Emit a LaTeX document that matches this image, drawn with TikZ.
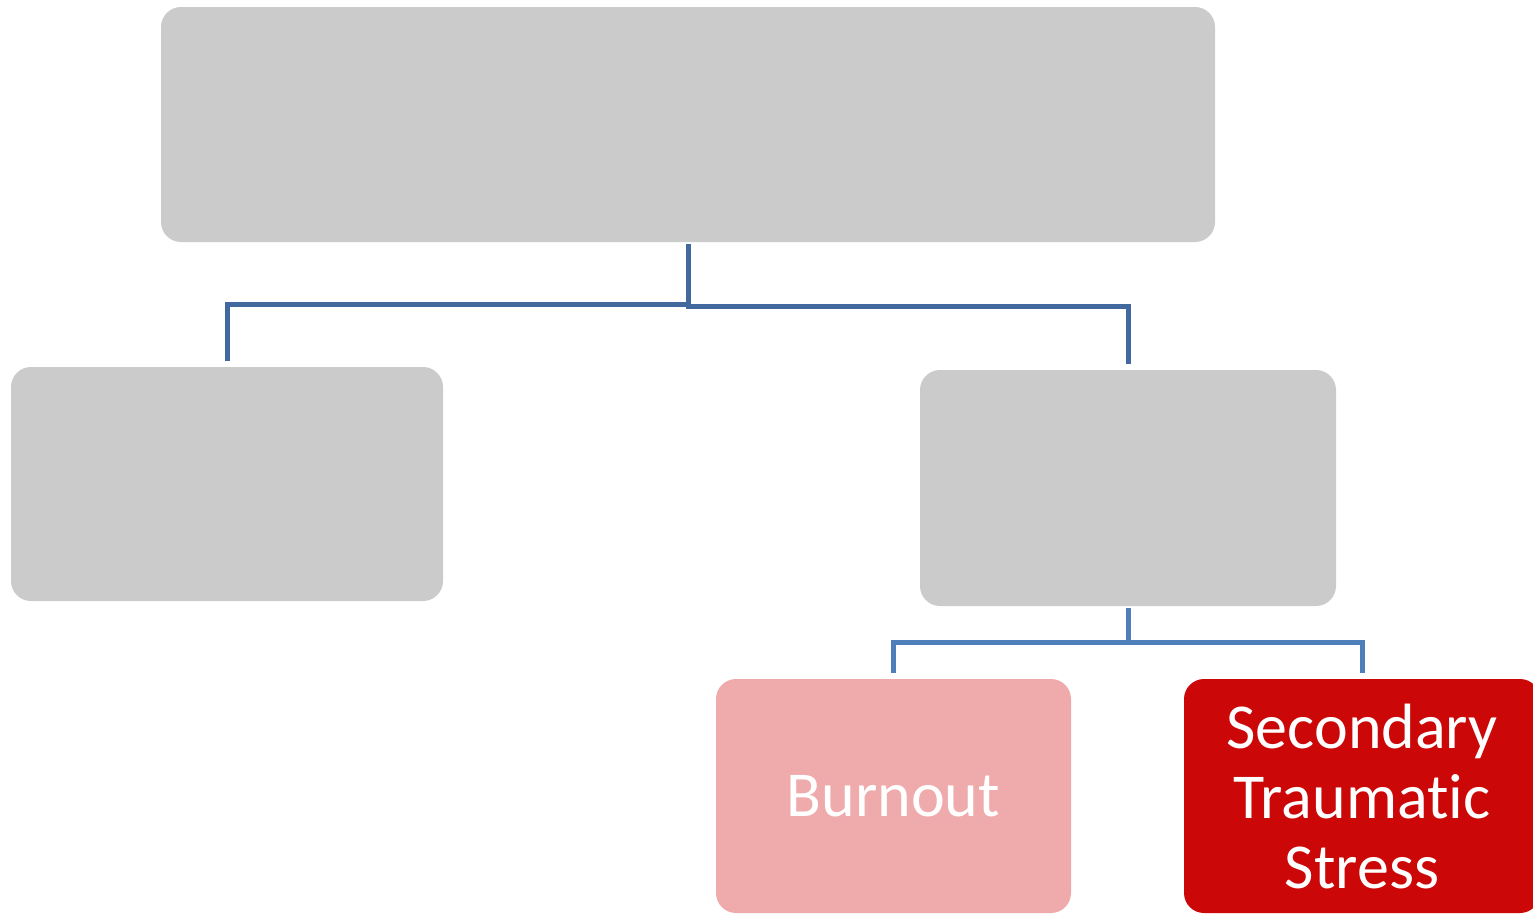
\documentclass[tikz,border=0pt]{standalone}
\usepackage{fontspec}
\setmainfont{Carlito}[Ligatures={NoCommon,NoRare}]
\begin{document}
\begin{tikzpicture}[x=1pt,y=-1pt,
  box/.style={rectangle, rounded corners=20pt, inner sep=0pt, draw=none},
  graybox/.style={box, fill=boxgray},
  conntop/.style={draw=linkdark, line width=5pt},
  connbot/.style={draw=linklight, line width=5pt},
  label/.style={text=white, align=center, font=\fontsize{64}{70}\selectfont}]
\definecolor{boxgray}{HTML}{CBCBCB}
\definecolor{boxpink}{HTML}{EFABAB}
\definecolor{boxred}{HTML}{CC0707}
\definecolor{linkdark}{HTML}{42699E}
\definecolor{linklight}{HTML}{4F7FBA}
\useasboundingbox (0,0) rectangle (1533,914);
\clip (0,0) rectangle (1533,914);
\fill[white] (0,0) rectangle (1533,914);
% boxes
\node[graybox, minimum width=1054pt, minimum height=235pt] (top) at (688,124.5) {};
\node[graybox, minimum width=432pt, minimum height=234pt] (left) at (227,484) {};
\node[graybox, minimum width=416pt, minimum height=236pt] (mid) at (1128,488) {};
\node[box, fill=boxpink, minimum width=355pt, minimum height=234pt, label] (burn) at (893.5,796) {Burnout};
\node[box, fill=boxred, minimum width=356pt, minimum height=234pt, label] (sts) at (1362,796) {Secondary\\Traumatic\\Stress};
% connectors from the top box
\draw[conntop, shorten <=2pt, shorten >=6pt] (top.south) -- ++(0,62) -| (left.north);
\draw[conntop, shorten <=2pt, shorten >=6pt] (top.south) -- ++(0,64) -| (mid.north);
% connectors from the middle box
\draw[connbot, shorten <=2pt, shorten >=6pt] (mid.south) -- ++(0,36) -| (burn.north);
\draw[connbot, shorten <=2pt, shorten >=6pt] (mid.south) -- ++(0,36) -| (sts.north);
\end{tikzpicture}
\end{document}
